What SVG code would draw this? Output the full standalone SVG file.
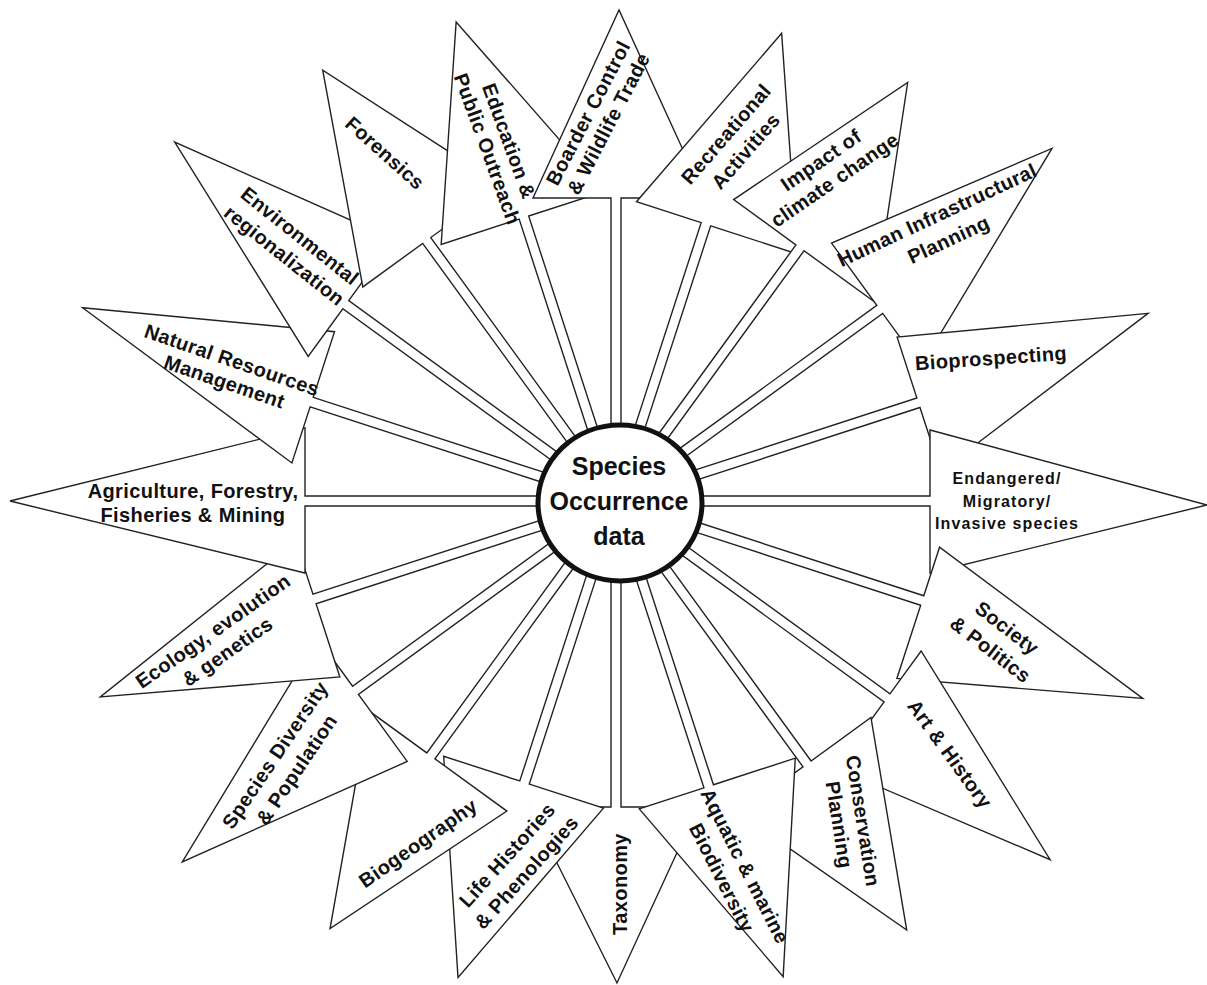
<svg xmlns="http://www.w3.org/2000/svg" width="1207" height="985" viewBox="0 0 1207 985">
  <style>
    .arrow { fill: #fff; stroke: #222; stroke-width: 1.4; stroke-linejoin: miter; }
    .lbl { font-family: "Liberation Sans", Arial, sans-serif; font-weight: bold; font-size: 20px; fill: #111; text-anchor: middle; letter-spacing: 0.4px; }
    .small { font-size: 16px; letter-spacing: 1.1px; }
    .hub { fill: #fff; stroke: #111; stroke-width: 5; }
    .hubtxt { font-family: "Liberation Sans", Arial, sans-serif; font-weight: bold; font-size: 25px; fill: #111; text-anchor: middle; }
  </style>
  <rect width="1207" height="985" fill="#fff"/>

  <!-- Each spoke is a block arrow: narrow shaft from the hub, triangular head.
       Local frame: x outward along the spoke, y across it. Drawn bottom to top. -->
  <g id="spokes">
    <g id="n-taxonomy">
      <polygon class="arrow" transform="translate(616,501) rotate(90)" points="60,-5 306,-5 306,-82 482,-1 306,87 306,5 60,5"/>
      <text class="lbl" transform="translate(620,884) rotate(-90)"><tspan x="0" y="7">Taxonomy</tspan></text>
    </g>
    <g id="n-life-histories">
      <polygon class="arrow" transform="translate(616,501) rotate(108)" points="60,-5 296,-5 296,-83 502,3 296,85 296,5 60,5"/>
      <text class="lbl" transform="translate(507,855) rotate(-48)"><tspan x="0" y="7">Life Histories</tspan><tspan x="0" y="33">&amp; Phenologies</tspan></text>
    </g>
    <g id="n-biogeography">
      <polygon class="arrow" transform="translate(616,501) rotate(126)" points="60,-5 315,-5 315,-94 514,-20 315,77 315,5 60,5"/>
      <text class="lbl" transform="translate(418,843) rotate(-35)"><tspan x="0" y="7">Biogeography</tspan></text>
    </g>
    <g id="n-species-diversity">
      <polygon class="arrow" transform="translate(616,501) rotate(144)" points="60,-5 322,-5 322,-88 563,-37 322,64 322,5 60,5"/>
      <text class="lbl" transform="translate(275,755) rotate(-56)"><tspan x="0" y="7">Species Diversity</tspan><tspan x="0" y="33">&amp; Population</tspan></text>
    </g>
    <g id="n-ecology">
      <polygon class="arrow" transform="translate(616,501) rotate(162)" points="60,-5 317,-5 317,-82 551,-27 317,61 317,5 60,5"/>
      <text class="lbl" transform="translate(213,631) rotate(-35)"><tspan x="0" y="7">Ecology, evolution</tspan><tspan x="0" y="32">&amp; genetics</tspan></text>
    </g>
    <g id="n-agriculture">
      <polygon class="arrow" transform="translate(616,501) rotate(180)" points="60,-5 311,-5 311,-72 606,0 311,73 311,5 60,5"/>
      <text class="lbl"><tspan x="193" y="498">Agriculture, Forestry,</tspan><tspan x="193" y="522">Fisheries &amp; Mining</tspan></text>
    </g>
    <g id="n-natural-resources">
      <polygon class="arrow" transform="translate(616,501) rotate(-162)" points="60,-5 320,-5 320,-64 567,19 320,74 320,5 60,5"/>
      <text class="lbl" transform="translate(232,360) rotate(19)"><tspan x="0" y="7">Natural Resources</tspan><tspan x="0" y="30">Management</tspan></text>
    </g>
    <g id="n-environmental">
      <polygon class="arrow" transform="translate(616,501) rotate(-144)" points="60,-5 334,-5 334,-64 568,31 334,81 334,5 60,5"/>
      <text class="lbl" transform="translate(300,236) rotate(38.5)"><tspan x="0" y="7">Environmental</tspan><tspan x="0" y="32">regionalization</tspan></text>
    </g>
    <g id="n-forensics">
      <polygon class="arrow" transform="translate(616,501) rotate(-126)" points="60,-5 322,-5 322,-79 521,16 322,93 322,5 60,5"/>
      <text class="lbl" transform="translate(385,153) rotate(42)"><tspan x="0" y="7">Forensics</tspan></text>
    </g>
    <g id="n-education">
      <polygon class="arrow" transform="translate(616,501) rotate(-108)" points="60,-5 298,-5 298,-87 505,-4 298,85 298,5 60,5"/>
      <text class="lbl" transform="translate(509,141) rotate(70)"><tspan x="0" y="7">Education &amp;</tspan><tspan x="0" y="30">Public Outreach</tspan></text>
    </g>
    <g id="n-border-control">
      <polygon class="arrow" transform="translate(616,501) rotate(-90)" points="60,-5 303,-5 303,-83 491,3 303,89 303,5 60,5"/>
      <text class="lbl" transform="translate(588,113) rotate(-62.5)"><tspan x="0" y="7">Boarder Control</tspan><tspan x="0" y="30">&amp; Wildlife Trade</tspan></text>
    </g>
    <g id="n-recreational">
      <polygon class="arrow" transform="translate(616,501) rotate(-72)" points="60,-5 291,-5 291,-73 496,13 291,96 291,5 60,5"/>
      <text class="lbl" transform="translate(726,134) rotate(-49)"><tspan x="0" y="7">Recreational</tspan><tspan x="0" y="33">Activities</tspan></text>
    </g>
    <g id="n-climate">
      <polygon class="arrow" transform="translate(616,501) rotate(-54)" points="60,-5 313,-5 313,-82 510,-10 313,92 313,5 60,5"/>
      <text class="lbl" transform="translate(821,160) rotate(-34.5)"><tspan x="0" y="7">Impact of</tspan><tspan x="0" y="31">climate change</tspan></text>
    </g>
    <g id="n-infrastructure">
      <polygon class="arrow" transform="translate(616,501) rotate(-36)" points="60,-5 326,-5 326,-82 560,-29 326,70 326,5 60,5"/>
      <text class="lbl" transform="translate(937,215) rotate(-25)"><tspan x="0" y="7">Human Infrastructural</tspan><tspan x="0" y="34">Planning</tspan></text>
    </g>
    <g id="n-bioprospecting">
      <polygon class="arrow" transform="translate(616,501) rotate(-18)" points="60,-5 318,-5 318,-69 564,-14 318,72 318,5 60,5"/>
      <text class="lbl" transform="translate(991,358) rotate(-4)"><tspan x="0" y="7">Bioprospecting</tspan></text>
    </g>
    <g id="n-endangered">
      <polygon class="arrow" transform="translate(616,501)" points="60,-5 314,-5 314,-71 591,4 314,72 314,5 60,5"/>
      <text class="lbl small"><tspan x="1007" y="484">Endangered/</tspan><tspan x="1007" y="507">Migratory/</tspan><tspan x="1007" y="529">Invasive species</tspan></text>
    </g>
    <g id="n-society">
      <polygon class="arrow" transform="translate(616,501) rotate(18)" points="60,-5 322,-5 322,-56 562,25 322,82 322,5 60,5"/>
      <text class="lbl" transform="translate(1007,628) rotate(37.5)"><tspan x="0" y="7">Society</tspan><tspan x="0" y="34">&amp; Politics</tspan></text>
    </g>
    <g id="n-art">
      <polygon class="arrow" transform="translate(616,501) rotate(36)" points="60,-5 335,-5 335,-58 562,35 335,87 335,5 60,5"/>
      <text class="lbl" transform="translate(950,754) rotate(54)"><tspan x="0" y="7">Art &amp; History</tspan></text>
    </g>
    <g id="n-conservation">
      <polygon class="arrow" transform="translate(616,501) rotate(54)" points="60,-5 325,-5 325,-79 518,17 325,84 325,5 60,5"/>
      <text class="lbl" transform="translate(863,821) rotate(81)"><tspan x="0" y="7">Conservation</tspan><tspan x="0" y="31">Planning</tspan></text>
    </g>
    <g id="n-aquatic">
      <polygon class="arrow" transform="translate(616,501) rotate(72)" points="60,-5 300,-5 300,-91 504,-12 300,73 300,5 60,5"/>
      <text class="lbl" transform="translate(745,866) rotate(63)"><tspan x="0" y="7">Aquatic &amp; marine</tspan><tspan x="0" y="33">Biodiversity</tspan></text>
    </g>
  </g>

  <!-- Central hub -->
  <g id="n-center">
    <ellipse class="hub" cx="620" cy="503" rx="82" ry="78"/>
    <text class="hubtxt"><tspan x="619" y="475">Species</tspan><tspan x="619" y="510">Occurrence</tspan><tspan x="619" y="545">data</tspan></text>
  </g>
</svg>
